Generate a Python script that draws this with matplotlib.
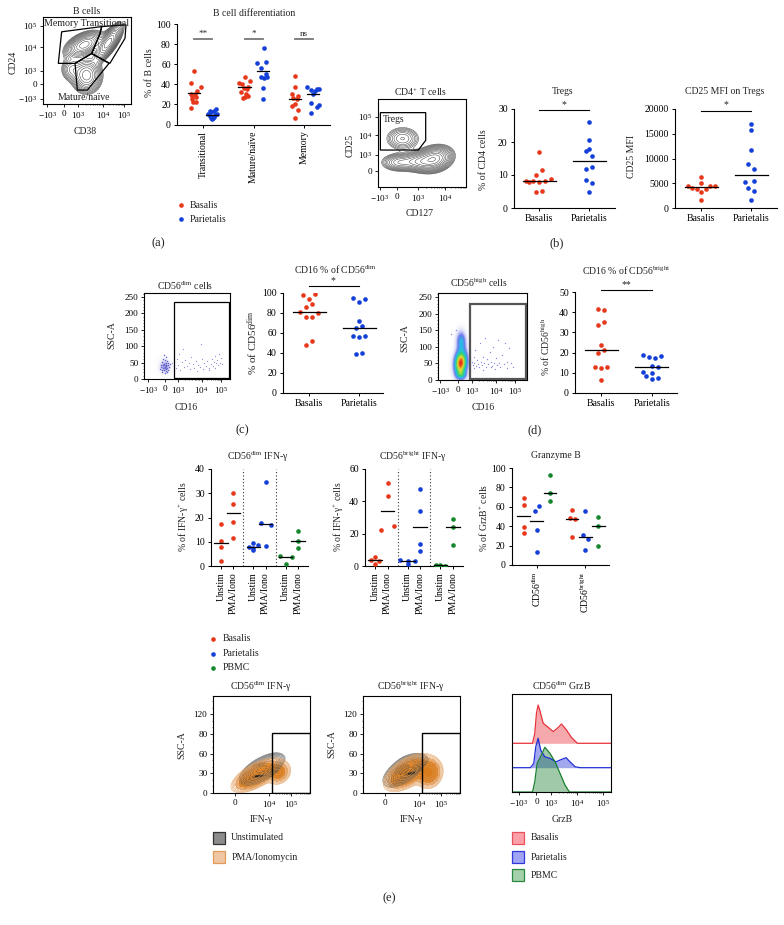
import numpy as np
import matplotlib
matplotlib.use('Agg')
import matplotlib.pyplot as plt
from matplotlib.colors import LinearSegmentedColormap
from matplotlib.patches import Rectangle

plt.rcParams['font.family'] = ['Liberation Serif', 'DejaVu Serif']
plt.rcParams['mathtext.fontset'] = 'custom'
plt.rcParams['mathtext.rm'] = 'Liberation Serif'
plt.rcParams['mathtext.default'] = 'rm'
plt.rcParams['axes.linewidth'] = 0.8
plt.rcParams['text.color'] = '#222222'

W, H = 784, 925
RED, BLUE, GREEN = '#e8381c', '#1440d8', '#14882c'
FS = 6.6

# --- panel a, B cell differentiation: values and jitter per group
bcell_groups = ['Transitional', 'Mature/naïve', 'Memory']
trans_bas = [53.5, 41, 37.5, 33, 30.5, 30, 28, 27, 25, 22, 22, 16]
trans_bas_j = [0, -.05, .13, .07, -.06, .02, -.04, .05, -.03, .05, -.02, -.05]
trans_par = [15, 13.5, 13, 12, 10.5, 10, 9, 8, 7, 6, 5, 6]
trans_par_j = [.07, -.05, .03, -.03, .09, -.08, .05, -.04, .03, -.02, 0, .02]
mat_bas = [47.5, 43, 41, 40, 37, 36, 35, 32, 30, 28, 27, 26]
mat_bas_j = [0, .11, -.11, -.05, .07, -.02, .04, -.07, .02, .06, .0, -.03]
mat_par = [76, 62.5, 61.5, 56, 50, 47.5, 47, 46, 36.5, 25.5]
mat_par_j = [0, .05, -.13, -.05, .05, -.05, .07, 0, -.01, -.01]
mem_bas = [48.5, 37.5, 30, 28, 26, 25, 20, 18, 14, 6]
mem_bas_j = [0, 0, -.07, .05, -.05, .04, 0, -.07, .06, 0]
mem_par = [37, 35, 34.5, 33, 30, 21, 19, 17, 11.5, 35.5]
mem_par_j = [-.12, .12, -.05, .03, -.01, -.05, .12, .07, -.05, .08]
bcell_medians = [[31, 9.5], [37, 53], [25, 30.5]]
bcell_sig = ['**', '*', 'ns']

# --- panel b
tregs_bas = [17, 11.5, 10, 8.2, 8.1, 8, 8.2, 8.8, 7.8, 5.3, 4.8]
tregs_bas_j = [0, .05, -.07, -.27, -.13, -.2, .12, .23, 0, .05, -.07]
tregs_par = [26, 20.7, 18, 17.2, 15.7, 12.3, 11.8, 8.5, 7.6, 5]
tregs_par_j = [0, 0, 0, -.07, .06, .06, -.07, -.07, .06, 0]
tregs_med = [8.2, 14.1]
mfi_bas = [6300, 5000, 4400, 4400, 4400, 4000, 3900, 3900, 3300, 1700]
mfi_bas_j = [0, 0, -.27, .27, .17, -.18, -.09, .09, 0, 0]
mfi_par = [16900, 15700, 11700, 8900, 7800, 5400, 5200, 4000, 3400, 1700]
mfi_par_j = [0, 0, 0, -.07, .06, .06, -.12, -.07, .06, 0]
mfi_med = [4200, 6600]

# --- panel c and d
dim_bas = [99, 98, 94.5, 89.5, 86, 81, 80, 76.5, 76, 52, 48]
dim_bas_j = [.12, -.12, 0, .06, -.06, -.18, .18, -.06, .06, .06, -.06]
dim_par = [95.5, 94, 91, 72.5, 67, 65, 57, 57.5, 56.5, 40.5, 39]
dim_par_j = [-.12, .12, 0, 0, .06, -.06, -.12, .12, 0, .06, -.06]
dim_med = [81, 65]
bright_bas = [41.5, 41, 35.2, 33.5, 24, 21.5, 20, 13, 12.7, 12.6, 6.5]
bright_bas_j = [-.06, .06, .06, -.06, 0, .06, -.06, .12, -.12, 0, 0]
bright_par = [19, 18.5, 17.8, 17.3, 13.2, 13, 10.5, 10, 8.5, 7.5, 6.8]
bright_par_j = [-.18, .18, -.06, .06, 0, .12, -.18, 0, -.12, .12, 0]
bright_med = [21.5, 13]

# --- panel e, IFN-gamma: groups Unstim/PMA for Basalis, Parietalis, PBMC
ifn_labels = ['Unstim', 'PMA/Iono'] * 3
ifn_pos = [1, 2, 3.63, 4.63, 6.26, 7.26]
ifn_dividers = [2.82, 5.45]
ifn_colors = [RED, RED, BLUE, BLUE, GREEN, GREEN]
dim_ifn = [[17.5, 10.5, 8, 2], [30.3, 25.5, 18, 11.7],
           [9.5, 8.5, 8, 7.5, 6.5], [34.5, 17.8, 17, 8.4],
           [4.2, 3.7, 1], [14.5, 10.2, 7.4]]
dim_ifn_j = [[0, 0, 0, 0], [0, 0, 0, 0],
             [0, .35, -.35, 0, 0], [0, -.4, .4, 0],
             [-.5, .5, 0], [0, 0, 0]]
dim_ifn_med = [9.3, 21.8, 8, 17.5, 3.9, 10.3]
bright_ifn = [[5.3, 4, 3, 1], [51.5, 43.5, 25, 22.3],
              [3.5, 3.2, 3.3, 1.2], [47.5, 34, 13.7, 9.4],
              [.8, .5, .3], [29, 24, 12.8]]
bright_ifn_j = [[0, -.3, .3, 0], [0, 0, .5, -.5],
                [-.6, 0, .6, 0], [0, 0, 0, 0],
                [-.4, 0, .4], [0, 0, 0]]
bright_ifn_med = [3.5, 34.3, 3.2, 24, .6, 24]

# --- panel e, Granzyme B
grz_groups = ['CD56$^{dim}$', 'CD56$^{bright}$']
grz_vals = [[69, 62, 39.5, 32.5], [61, 55.5, 36, 13.3], [93, 74, 65.5],
            [57, 48.5, 47, 28.5], [55.5, 30.5, 27, 15], [49, 40, 20]]
grz_j = [[0, 0, 0, 0], [.04, -.04, 0, 0], [0, 0, 0],
         [0, -.05, .05, 0], [0, -.05, .05, 0], [0, 0, 0]]
grz_pos = [.73, 1, 1.27, 1.73, 2, 2.27]
grz_med = [51, 45.5, 74, 47.5, 28.5, 40]
grz_colors = [RED, BLUE, GREEN] * 2

# --- flow cytometry panels, channels 0-100 along the biexponential axes
cd38_ticks = [5, 24, 40, 68, 92]
cd24_ticks = [6, 23, 38, 65, 90]
bcell_blobs = [(47, 68, 10, 7, .45, 1), (74, 70, 7.5, 10, .75, 1),
               (49.6, 33, 8, 9.5, 0, .8), (32, 40, 6, 7, 0, .25)]
gate_memory = [(17.4, 46.7), (21.2, 83), (66.7, 89), (64.8, 81), (55.3, 58), (36.4, 46.7)]
gate_trans = [(66.7, 89), (94.3, 91), (93.2, 75.5), (76, 46.7), (55.3, 58), (64.8, 81)]
gate_mature = [(36.4, 46.7), (55.3, 58), (75, 46.7), (50.4, 16), (39, 16)]

cd127_ticks = [2, 21.8, 45, 76]
cd25_ticks = [18.5, 36.6, 59, 80]
treg_blobs = [(64, 32, 10, 7, .2, 1), (46, 29, 10, 5.5, 0, .55), (24, 28, 10, 5, 0, .4),
              (28, 55, 10, 7, 0, .28)]
gate_treg = [(2.7, 84.5), (54.2, 84.5), (54.2, 53), (45.8, 42), (2.7, 42)]

cd16_c_ticks = [5, 24, 40, 67, 89.5]
gate_c = [(35, 2), (35, 236), (98.4, 236), (98.4, 2)]
cloud_c = [(24, 38, 3.6, 12, 0, 1)]
core_c_x = [19, 20, 21, 21, 22, 22, 23, 23, 24, 24, 24, 25, 25, 26, 26, 27, 27, 28, 28, 29,
            20, 22, 24, 26, 28, 23, 25, 21, 27, 30]
core_c_y = [30, 44, 22, 52, 35, 62, 28, 46, 18, 38, 58, 30, 66, 24, 48, 34, 55, 28, 42, 36,
            36, 42, 32, 40, 50, 72, 42, 28, 20, 46]
speck_c_x = [33, 35, 37, 38, 40, 41, 42, 44, 45, 46, 48, 50, 52, 54, 55, 57, 58, 60, 62, 63,
             65, 66, 67, 69, 70, 72, 73, 75, 76, 78, 79, 80, 81, 82, 83, 84, 85, 86, 87, 88, 90, 91]
speck_c_y = [48, 95, 32, 60, 42, 75, 28, 52, 90, 36, 58, 40, 50, 30, 68, 45, 35, 55, 25, 42,
             38, 108, 60, 30, 48, 40, 55, 35, 28, 45, 62, 40, 52, 70, 35, 48, 58, 42, 75, 50, 65, 45]

cd16_d_ticks = [2.6, 22.8, 38, 65.5, 87]
gate_d = [(36.3, 3), (36.3, 230), (98.5, 230), (98.5, 3)]
cloud_d = [(25.5, 51, 4.2, 22, .12, 1), (26, 115, 3.4, 20, 0, .28), (26, 16, 3.5, 9, 0, .3)]
speck_d_x = [38, 39, 40, 40, 41, 42, 43, 44, 45, 46, 47, 48, 49, 50, 50, 52, 53, 54, 55, 56,
             58, 59, 60, 61, 62, 63, 64, 65, 66, 67, 68, 70, 72, 74, 75, 77, 78, 80, 82, 84, 20, 15]
speck_d_y = [55, 45, 70, 35, 50, 90, 42, 60, 48, 38, 110, 55, 45, 70, 30, 50, 125, 40, 62, 48,
             85, 38, 55, 42, 100, 50, 33, 65, 45, 120, 52, 40, 75, 48, 110, 55, 35, 95, 50, 40, 150, 138]

ifn_ticks = [23, 58, 80]
gate_ifn = [(60.7, .5), (60.7, 92), (100, 92), (100, .5)]
dim_unstim = [(50, 36, 9, 9.5, .6, 1), (62, 50, 5, 4.5, .3, .3)]
dim_pma = [(45, 27, 10, 10, .65, 1), (68, 31, 5.5, 8, .2, .35)]
dim_core = [(48, 26, 4.5, 1.6, .7, 1), (47, 43, 5, 2.5, .6, .7)]
bright_unstim = [(42, 34, 8.5, 10, .6, 1), (52, 48, 7, 5, .3, .3)]
bright_pma = [(46, 31, 9.5, 11, .55, 1), (68, 31, 6, 10, .1, .6)]
bright_core = [(50, 30, 3.5, 1.6, .7, 1), (40, 36, 6, 6.5, .6, .6)]

grzb_ticks = [7, 24.7, 39, 66, 91.5]
hist_baselines = [49.7, 24.8, 0]
hist_red_x = [0, 20.7, 23, 24.7, 26.4, 28, 31.5, 36.6, 41.7, 46.8, 50, 55, 60, 66, 100]
hist_red_y = [0, 0, 10, 30.6, 39, 34, 20.4, 16.3, 11.9, 16.3, 19.7, 13.6, 6, 0, 0]
hist_blue_x = [0, 18.6, 22, 24, 26.4, 29, 33, 38.3, 44.4, 50.2, 54.6, 58.6, 63.7, 68.8, 100]
hist_blue_y = [0, 0, 4.4, 21.4, 30, 18, 11.2, 9.5, 6, 8.5, 10.2, 6, 1, 0, 0]
hist_green_x = [0, 20.7, 23, 25.4, 29.8, 33.2, 38.3, 43.4, 48.5, 53.6, 58, 100]
hist_green_y = [0, 0, 10.5, 29.3, 37.8, 45.6, 39.5, 31, 19, 7, 0, 0]

neg = '\u221210$^{3}$'
dec3, dec4, dec5 = '10$^{3}$', '10$^{4}$', '10$^{5}$'

density_cmap = LinearSegmentedColormap.from_list(
    'flow', [(0, '#ffffff'), (.07, '#d4d4f6'), (.16, '#6a78ea'), (.3, '#22c0e8'), (.48, '#2fd070'),
             (.72, '#e8e030'), (.86, '#f08020'), (1, '#e02818')])
cloud_cmap = LinearSegmentedColormap.from_list('cloud', ['#ffffff', '#d0d0f2', '#9090e0'])

fig = plt.figure(figsize=(W / 100, H / 100), dpi=100)


def box(x0, y0, x1, y1):
    # pixel box of the reference -> axes
    return fig.add_axes([x0 / W, 1 - y1 / H, (x1 - x0) / W, (y1 - y0) / H])


def density(blobs, X, Y):
    Z = np.zeros_like(X, dtype=float)
    for cx, cy, sx, sy, rho, w in blobs:
        dx, dy = (X - cx) / sx, (Y - cy) / sy
        Z += w * np.exp(-(dx ** 2 - 2 * rho * dx * dy + dy ** 2) / (2 * (1 - rho ** 2)))
    return Z


def style_flow(ax, xt, xl, yt, yl, ylim=(0, 100), decades=None, yminor=None):
    ax.set_xlim(0, 100)
    ax.set_ylim(*ylim)
    ax.set_xticks(xt, xl)
    ax.set_yticks(yt, yl)
    ax.tick_params(length=2, width=.6, labelsize=FS, pad=2)
    if decades:
        minor = []
        for a, b in zip(decades[:-1], decades[1:]):
            minor += list(a + (b - a) * np.log10(np.arange(2, 10)))
        ax.set_xticks(minor, minor=True)
    if yminor is not None:
        ax.set_yticks(yminor, minor=True)
    ax.tick_params(which='minor', length=1, width=.4)


def grid(ylim):
    return np.meshgrid(np.linspace(0, 100, 300), np.linspace(ylim[0], ylim[1], 300))


def contours(ax, blobs, color, n=9, lw=.35, ylim=(0, 100), low=.05, high=.85):
    X, Y = grid(ylim)
    Z = density(blobs, X, Y)
    ax.contour(X, Y, Z, levels=np.geomspace(low, high, n) * Z.max(), colors=color, linewidths=lw)


def gate(ax, pts, color='black', lw=.9):
    ax.fill(*zip(*pts), fill=False, edgecolor=color, linewidth=lw, zorder=5)


def swarm(ax, center, values, jitter, color, s=11):
    ax.scatter(np.array(jitter) + center, values, s=s, color=color, linewidths=0, zorder=3)


def median(ax, center, value, half):
    ax.plot([center - half, center + half], [value, value], color='black', lw=.9, zorder=4)


def style_dots(ax, xlim, ylim, yt, xt, xl, rot=0):
    for side in ('top', 'right'):
        ax.spines[side].set_visible(False)
    ax.set_xlim(*xlim)
    ax.set_ylim(*ylim)
    ax.set_yticks(yt)
    ax.set_xticks(xt, xl, rotation=rot)
    ax.tick_params(length=2.5, width=.7, labelsize=FS + .4, pad=2)


def two_groups(ax, bas, bas_j, par, par_j, med):
    swarm(ax, 1, bas, bas_j, RED)
    swarm(ax, 2, par, par_j, BLUE)
    median(ax, 1, med[0], .33)
    median(ax, 2, med[1], .33)


# --- a, flow
ax = box(43, 17, 131, 104)
style_flow(ax, cd38_ticks, [neg, '0', dec3, dec4, dec5], cd24_ticks,
           [neg, '0', dec3, dec4, dec5], decades=cd38_ticks[2:])
contours(ax, bcell_blobs, '#3a3a3a', n=13, low=.05)
gate(ax, gate_memory)
gate(ax, gate_trans)
gate(ax, gate_mature)

# --- a, dots
ax = box(177, 24, 330, 124.5)
style_dots(ax, (.485, 3.51), (0, 100), range(0, 101, 20), [1, 2, 3], bcell_groups, rot=90)
swarm(ax, .82, trans_bas, trans_bas_j, RED)
swarm(ax, 1.18, trans_par, trans_par_j, BLUE)
swarm(ax, 1.82, mat_bas, mat_bas_j, RED)
swarm(ax, 2.2, mat_par, mat_par_j, BLUE)
swarm(ax, 2.82, mem_bas, mem_bas_j, RED)
swarm(ax, 3.18, mem_par, mem_par_j, BLUE)
for i, (m, sig) in enumerate(zip(bcell_medians, bcell_sig)):
    median(ax, i + .82, m[0], .12)
    median(ax, i + 1.18, m[1], .12)
    ax.plot([i + .82, i + 1.18], [85, 85], color='#777777', lw=1.3)
    ax.text(i + 1, 86.5, sig, ha='center', va='bottom', fontsize=FS)

# --- b, flow
ax = box(378, 99, 466, 187)
style_flow(ax, cd127_ticks, [neg, '0', dec3, dec4], cd25_ticks, ['0', dec3, dec4, dec5],
           decades=cd127_ticks[2:] + [100])
contours(ax, treg_blobs, '#3a3a3a', n=14, low=.05, high=.95)
gate(ax, gate_treg)

# --- b, dots
ax = box(514, 109, 615, 208)
style_dots(ax, (.5, 2.52), (0, 30), [0, 10, 20, 30], [1, 2], ['Basalis', 'Parietalis'])
two_groups(ax, tregs_bas, tregs_bas_j, tregs_par, tregs_par_j, tregs_med)
ax.plot([1, 2], [29.6, 29.6], color='black', lw=.8)

ax = box(675, 109, 777, 208)
style_dots(ax, (.48, 2.52), (0, 20000), range(0, 20001, 5000), [1, 2], ['Basalis', 'Parietalis'])
two_groups(ax, mfi_bas, mfi_bas_j, mfi_par, mfi_par_j, mfi_med)
ax.plot([1, 2], [19600, 19600], color='black', lw=.8)

# --- c, flow
ax = box(144, 293, 230, 379)
style_flow(ax, cd16_c_ticks, [neg, '0', dec3, dec4, dec5], range(0, 251, 50), range(0, 251, 50),
           ylim=(0, 262), decades=cd16_c_ticks[2:], yminor=range(0, 261, 10))
X, Y = grid((0, 262))
ax.imshow(density(cloud_c, X, Y), origin='lower', extent=(0, 100, 0, 262), aspect='auto',
          cmap=cloud_cmap, interpolation='bilinear')
ax.scatter(core_c_x, core_c_y, s=1.1, color='#6060c8', linewidths=0)
ax.scatter(speck_c_x, speck_c_y, s=.8, color='#9090dc', linewidths=0)
gate(ax, gate_c)

# --- c, dots
ax = box(283, 293, 383, 393)
style_dots(ax, (.48, 2.48), (0, 100), range(0, 101, 20), [1, 2], ['Basalis', 'Parietalis'])
two_groups(ax, dim_bas, dim_bas_j, dim_par, dim_par_j, dim_med)
ax.plot([1, 2], [107, 107], color='black', lw=.8, clip_on=False)

# --- d, flow
ax = box(438, 293, 527, 380)
style_flow(ax, cd16_d_ticks, [neg, '0', dec3, dec4, dec5], range(0, 251, 50), range(0, 251, 50),
           ylim=(0, 262), decades=cd16_d_ticks[2:], yminor=range(0, 261, 10))
ax.imshow(density(cloud_d, X, Y), origin='lower', extent=(0, 100, 0, 262), aspect='auto',
          cmap=density_cmap, interpolation='bilinear')
ax.scatter(speck_d_x, speck_d_y, s=.9, color='#8888e4', linewidths=0)
gate(ax, gate_d, color='#555555', lw=1.6)

# --- d, dots
ax = box(575, 292, 677, 393)
style_dots(ax, (.48, 2.5), (0, 50), range(0, 51, 10), [1, 2], ['Basalis', 'Parietalis'])
two_groups(ax, bright_bas, bright_bas_j, bright_par, bright_par_j, bright_med)
ax.plot([1, 2], [51, 51], color='black', lw=.8, clip_on=False)

# --- e, IFN dots
for bx, ylim, yt, vals, jit, meds in [
        ((211, 469, 308, 566), (0, 40), range(0, 41, 10), dim_ifn, dim_ifn_j, dim_ifn_med),
        ((365, 469, 463, 566), (0, 60), range(0, 61, 20), bright_ifn, bright_ifn_j, bright_ifn_med)]:
    ax = box(*bx)
    style_dots(ax, (.19, 8.07), ylim, yt, ifn_pos, ifn_labels, rot=90)
    for p, v, j, m, c in zip(ifn_pos, vals, jit, meds, ifn_colors):
        swarm(ax, p, v, j, c)
        median(ax, p, m, .55)
    for d in ifn_dividers:
        ax.axvline(d, color='#333333', lw=.8, ls=(0, (1, 2)))

# --- e, Granzyme B dots
ax = box(512, 468, 609, 565)
style_dots(ax, (.49, 2.49), (0, 100), range(0, 101, 20), [1, 2], grz_groups, rot=90)
for p, v, j, m, c in zip(grz_pos, grz_vals, grz_j, grz_med, grz_colors):
    swarm(ax, p, v, j, c)
    median(ax, p, m, .13)

# --- e, contour panels
for bx, unstim, pma, core in [((213, 696, 310, 793), dim_unstim, dim_pma, dim_core),
                              ((363, 696, 460, 793), bright_unstim, bright_pma, bright_core)]:
    ax = box(*bx)
    style_flow(ax, ifn_ticks, ['0', dec4, dec5], [0, 30, 60, 90, 120], ['0', '30', '60', '80', '120'],
               ylim=(0, 148), decades=ifn_ticks[1:] + [100], yminor=range(0, 141, 10))
    contours(ax, unstim, '#555555', n=10, lw=.35, ylim=(0, 148), low=.04)
    contours(ax, pma, '#e09a55', n=12, lw=.35, ylim=(0, 148), low=.03)
    XX, YY = grid((0, 148))
    Z = density(pma, XX, YY)
    ax.contourf(XX, YY, Z, levels=[.1 * Z.max(), 1.1 * Z.max()], colors='#e8a060', alpha=.8)
    ax.contourf(XX, YY, Z, levels=[.2 * Z.max(), 1.1 * Z.max()], colors='#d87a18', alpha=.95)
    Z = density(core, XX, YY)
    ax.contourf(XX, YY, Z, levels=[.3 * Z.max(), 1.1 * Z.max()], colors='#8a5a28', alpha=.55)
    ax.contourf(XX, YY, Z, levels=[.7 * Z.max(), 1.1 * Z.max()], colors='#2a1808')
    gate(ax, gate_ifn, lw=1)

# --- e, histogram
ax = box(512, 694, 611, 792)
style_flow(ax, grzb_ticks, [neg, '0', dec3, dec4, dec5], [], [], decades=grzb_ticks[2:])
for hx, hy, base, col in [(hist_red_x, hist_red_y, hist_baselines[0], '#e8323c'),
                          (hist_blue_x, hist_blue_y, hist_baselines[1], '#2030d8'),
                          (hist_green_x, hist_green_y, hist_baselines[2], '#1a8030')]:
    hy = np.array(hy) + base
    ax.fill_between(hx, base, hy, color=col, alpha=.42, linewidth=0)
    ax.plot(hx, hy, color=col, lw=.9)

# --- overlay for free text and legends
over = fig.add_axes([0, 0, 1, 1], zorder=10)
over.set_xlim(0, W)
over.set_ylim(H, 0)
over.axis('off')


def T(x, y, s, size=FS + .4, rot=0, ha='center'):
    over.text(x, y, s, fontsize=size, rotation=rot, ha=ha, va='center')


for x, y, s in [(87, 11, 'B cells'), (254, 14, 'B cell differentiation'),
                (420, 92, 'CD4$^{+}$ T cells'), (563, 92, 'Tregs'), (725, 92, 'CD25 MFI on Tregs'),
                (185, 286, 'CD56$^{dim}$ cells'), (335, 270, 'CD16 % of CD56$^{dim}$'),
                (479, 283, 'CD56$^{high}$ cells'), (626, 271, 'CD16 % of CD56$^{bright}$'),
                (258, 457, 'CD56$^{dim}$ IFN-γ'), (413, 457, 'CD56$^{bright}$ IFN-γ'),
                (556, 456, 'Granzyme B'), (261, 687, 'CD56$^{dim}$ IFN-γ'),
                (411, 687, 'CD56$^{bright}$ IFN-γ'), (562, 686, 'CD56$^{dim}$ GrzB')]:
    T(x, y, s)

for x, y, s in [(85, 131, 'CD38'), (420, 214, 'CD127'), (186, 407, 'CD16'), (483, 407, 'CD16'),
                (261, 819, 'IFN-γ'), (411, 819, 'IFN-γ'), (562, 819, 'GrzB')]:
    T(x, y, s)

for x, y, s in [(13, 62, 'CD24'), (150, 73, '% of B cells'), (350, 145, 'CD25'),
                (484, 160, '% of CD4 cells'), (632, 157, 'CD25 MFI'), (112, 335, 'SSC-A'),
                (405, 338, 'SSC-A'), (546, 347, '% of CD56$^{high}$'),
                (183, 517, '% of IFN-γ$^{+}$ cells'), (338, 517, '% of IFN-γ$^{+}$ cells'),
                (483, 518, '% of GrzB$^{+}$ cells'), (182, 745, 'SSC-A'), (332, 744, 'SSC-A')]:
    T(x, y, s, rot=90)
T(253, 343, '% of CD56$^{dim}$', size=FS + 1.4, rot=90)

T(87, 23, 'Memory Transitional', size=FS + .6)
T(84, 97, 'Mature/naïve', size=FS + .4)
T(394, 119, 'Tregs', size=FS + .4)

for x, y, s in [(564, 105, '*'), (726, 105, '*'), (333, 281, '*'), (626, 285, '**')]:
    T(x, y, s)

for x, y, s in [(158, 243, '(a)'), (557, 243, '(b)'), (242, 430, '(c)'), (535, 430, '(d)'), (389, 898, '(e)')]:
    T(x, y, s, size=9)

for y, c, s in [(205, RED, 'Basalis'), (219, BLUE, 'Parietalis')]:
    over.scatter([181], [y], s=11, color=c, linewidths=0)
    T(190, y, s, ha='left')
for y, c, s in [(638.5, RED, 'Basalis'), (653.5, BLUE, 'Parietalis'), (668, GREEN, 'PBMC')]:
    over.scatter([212.7], [y], s=11, color=c, linewidths=0)
    T(222.7, y, s, ha='left')
for x, y, fc, ec, s in [(212.7, 832, '#8c8c8c', '#333333', 'Unstimulated'),
                        (212.7, 851, '#efc6a4', '#e09a5a', 'PMA/Ionomycin'),
                        (512.3, 832, '#fba0a8', '#e8505a', 'Basalis'),
                        (512.3, 851, '#a0a4f4', '#3038d8', 'Parietalis'),
                        (512.3, 869, '#a4d0ac', '#2a8a40', 'PBMC')]:
    over.add_patch(Rectangle((x, y), 12, 12, facecolor=fc, edgecolor=ec, lw=.9))
    T(x + 18.5, y + 6, s, ha='left')

fig.savefig('out.png', dpi=100)
